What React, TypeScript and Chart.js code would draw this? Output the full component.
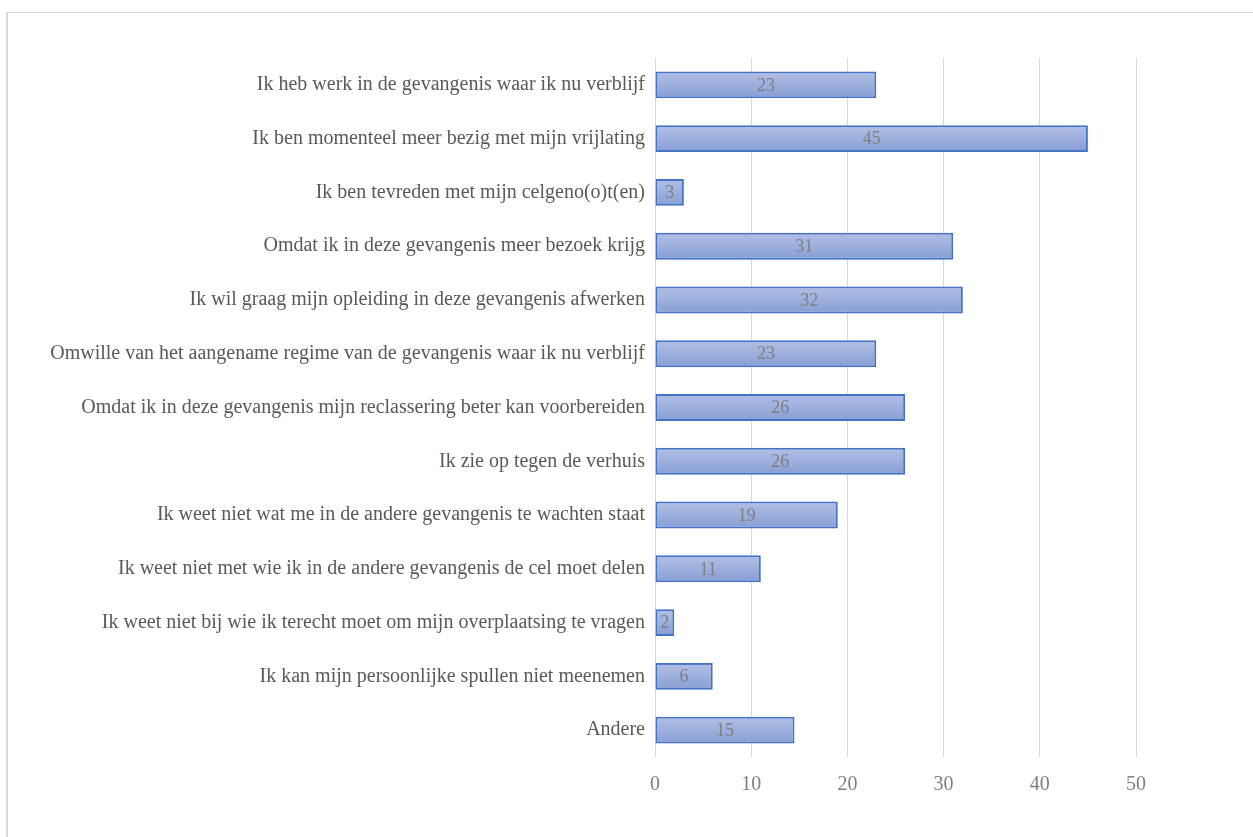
import React, { useEffect, useRef } from "react";
import { Chart, registerables } from "chart.js";

Chart.register(...registerables);

const categories = [
  "Ik heb werk in de gevangenis waar ik nu verblijf",
  "Ik ben momenteel meer bezig met mijn vrijlating",
  "Ik ben tevreden met mijn celgeno(o)t(en)",
  "Omdat ik in deze gevangenis meer bezoek krijg",
  "Ik wil graag mijn opleiding in deze gevangenis afwerken",
  "Omwille van het aangename regime van de gevangenis waar ik nu verblijf",
  "Omdat ik in deze gevangenis mijn reclassering beter kan voorbereiden",
  "Ik zie op tegen de verhuis",
  "Ik weet niet wat me in de andere gevangenis te wachten staat",
  "Ik weet niet met wie ik in de andere gevangenis de cel moet delen",
  "Ik weet niet bij wie ik terecht moet om mijn overplaatsing te vragen",
  "Ik kan mijn persoonlijke spullen niet meenemen",
  "Andere",
];

const values = [23, 45, 3, 31, 32, 23, 26, 26, 19, 11, 2, 6, 14.5];

const xMin = 0;
const xMax = 50;
const xStep = 10;

const FONT = '"Liberation Serif", "Times New Roman", serif';
const BORDER_W = 2;

const gradientPlugin = {
  id: "barGradient",
  afterDatasetsDraw(chart: any) {
    const ctx = chart.ctx;
    const meta = chart.getDatasetMeta(0);
    ctx.save();
    meta.data.forEach((bar: any) => {
      const h = bar.height / 2;
      const left = Math.min(bar.base, bar.x) + BORDER_W;
      const right = Math.max(bar.base, bar.x) - BORDER_W;
      const top = bar.y - h + BORDER_W;
      const bottom = bar.y + h - BORDER_W;
      if (right <= left || bottom <= top) return;
      const g = ctx.createLinearGradient(0, top, 0, bottom);
      g.addColorStop(0, "#aebde4");
      g.addColorStop(1, "#8aa1d6");
      ctx.fillStyle = g;
      ctx.fillRect(left, top, right - left, bottom - top);
    });
    ctx.restore();
  },
};

const dataLabelPlugin = {
  id: "dataLabels",
  afterDatasetsDraw(chart: any) {
    const ctx = chart.ctx;
    const meta = chart.getDatasetMeta(0);
    ctx.save();
    ctx.font = `18px ${FONT}`;
    ctx.fillStyle = "#7f7f7f";
    ctx.textAlign = "center";
    ctx.textBaseline = "middle";
    meta.data.forEach((bar: any, i: number) => {
      const v = values[i];
      const cx = (bar.x + bar.base) / 2;
      ctx.fillText(String(Math.round(v)), cx, bar.y + 1);
    });
    ctx.restore();
  },
};

export default function App() {
  const canvasRef = useRef<HTMLCanvasElement | null>(null);

  useEffect(() => {
    const canvas = canvasRef.current;
    if (!canvas) return;
    const chart = new Chart(canvas, {
      type: "bar",
      data: {
        labels: categories,
        datasets: [
          {
            data: values,
            backgroundColor: "#9aafdd",
            borderColor: "#4472c4",
            borderWidth: BORDER_W,
            borderSkipped: false,
            barPercentage: 0.5,
            categoryPercentage: 1,
          },
        ],
      },
      options: {
        indexAxis: "y",
        responsive: false,
        animation: false,
        layout: { padding: { top: 58, right: 117, left: 0, bottom: 0 } },
        plugins: {
          legend: { display: false },
          tooltip: { enabled: false },
          title: { display: false },
        },
        scales: {
          x: {
            min: xMin,
            max: xMax,
            grid: { color: "#d9d9d9", lineWidth: 1, drawTicks: false },
            border: { display: false },
            ticks: {
              stepSize: xStep,
              padding: 16,
              color: "#7f7f7f",
              font: { family: FONT, size: 20 },
            },
            afterFit: (s: any) => {
              s.height = 80;
            },
          },
          y: {
            grid: { display: false, drawTicks: false },
            border: { display: false },
            ticks: {
              padding: 10,
              color: "#595959",
              font: { family: FONT, size: 20 },
              autoSkip: false,
            },
            afterFit: (s: any) => {
              s.width = 655;
            },
          },
        },
      },
      plugins: [gradientPlugin, dataLabelPlugin],
    } as any);
    return () => chart.destroy();
  }, []);

  return (
    <div
      style={{
        position: "fixed",
        left: 0,
        top: 0,
        width: 1253,
        height: 837,
        overflow: "hidden",
        background: "#ffffff",
      }}
    >
      <div
        style={{
          position: "absolute",
          left: 6,
          top: 12,
          width: 1300,
          height: 900,
          borderLeft: "2px solid #d9d9d9",
          borderTop: "1px solid #d9d9d9",
          boxSizing: "border-box",
        }}
      />
      <canvas
        ref={canvasRef}
        width={1253}
        height={837}
        style={{ position: "absolute", left: 0, top: 0, width: 1253, height: 837 }}
      />
    </div>
  );
}
